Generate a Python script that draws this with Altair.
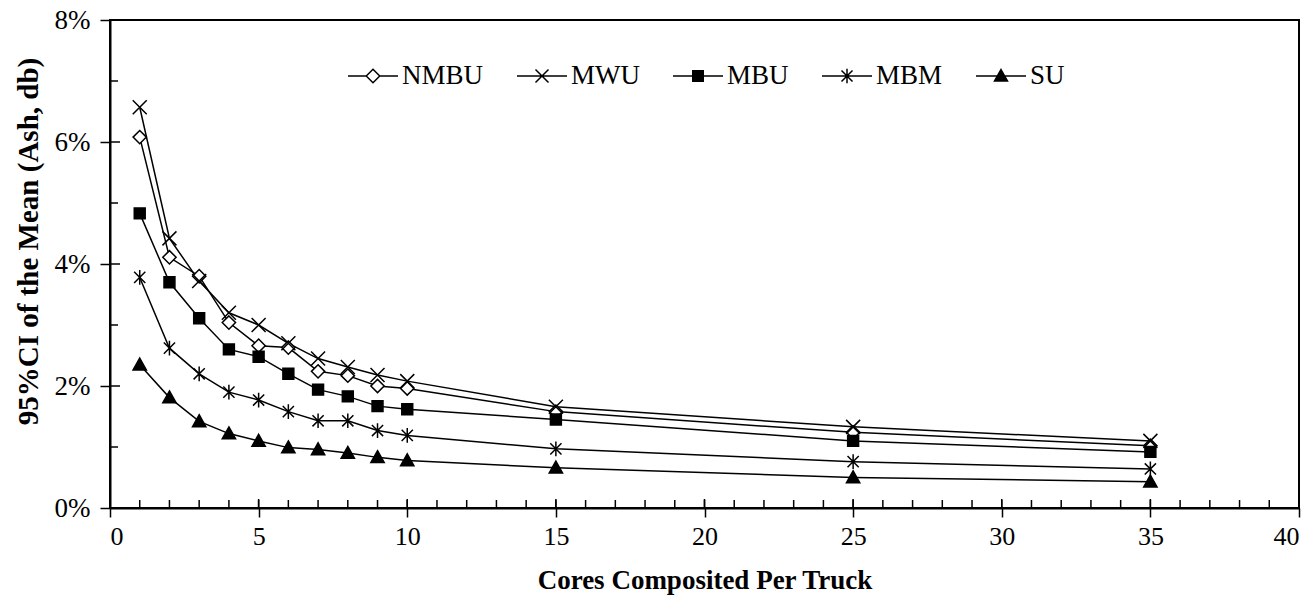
import altair as alt
import pandas as pd

# Cores composited per truck (x) and 95% CI of the mean, in percent (y)
cores = [1, 2, 3, 4, 5, 6, 7, 8, 9, 10, 15, 25, 35]
nmbu = [6.08, 4.11, 3.80, 3.04, 2.66, 2.63, 2.24, 2.17, 2.00, 1.96, 1.58, 1.24, 1.02]
mwu = [6.57, 4.42, 3.72, 3.20, 3.00, 2.70, 2.45, 2.31, 2.18, 2.08, 1.66, 1.33, 1.10]
mbu = [4.83, 3.70, 3.11, 2.60, 2.48, 2.20, 1.94, 1.83, 1.67, 1.62, 1.45, 1.10, 0.92]
mbm = [3.78, 2.62, 2.20, 1.90, 1.77, 1.58, 1.43, 1.43, 1.27, 1.19, 0.97, 0.76, 0.64]
su = [2.35, 1.81, 1.42, 1.22, 1.10, 0.99, 0.96, 0.90, 0.83, 0.78, 0.66, 0.50, 0.43]

series_names = ["NMBU", "MWU", "MBU", "MBM", "SU"]
series_values = [nmbu, mwu, mbu, mbm, su]

x_major = [0, 5, 10, 15, 20, 25, 30, 35, 40]
x_minor = list(range(0, 41))
y_major = [0.0, 0.02, 0.04, 0.06, 0.08]
y_minor = [0.01, 0.03, 0.05, 0.07]

rows = []
for name, vals in zip(series_names, series_values):
    for c, v in zip(cores, vals):
        rows.append({"series": name, "cores": c, "ci": v / 100.0})
df = pd.DataFrame(rows)

W, H = 1189, 488
FONT = "Liberation Serif"

# marker glyphs drawn on the curves
marker_paths = [
    "M0,-0.95L0.95,0L0,0.95L-0.95,0Z",
    "M-1,-1L1,1M-1,1L1,-1",
    "M-0.78,-0.78H0.78V0.78H-0.78Z",
    "M-0.8,-0.8L0.8,0.8M-0.8,0.8L0.8,-0.8M0,-1.05V1.05",
    "M0,-0.95L0.95,0.75L-0.95,0.75Z",
]
marker_fills = ["white", "transparent", "black", "transparent", "black"]
marker_strokes = ["black"] * 5

# legend glyphs: a line segment with the marker in the middle
legend_paths = [
    "M-1,0H-0.27M0.27,0H1M0,-0.27L0.27,0L0,0.27L-0.27,0Z",
    "M-1,0H1M-0.26,-0.26L0.26,0.26M-0.26,0.26L0.26,-0.26",
    "M-1,0H1M-0.21,-0.21H0.21V0.21H-0.21Z",
    "M-1,0H1M-0.22,-0.22L0.22,0.22M-0.22,0.22L0.22,-0.22M0,-0.29V0.29",
    "M-1,0H1M0,-0.26L0.26,0.2L-0.26,0.2Z",
]

x_scale = alt.Scale(domain=[0, 40], nice=False, zero=False)
y_scale = alt.Scale(domain=[0, 0.08], nice=False)

x_axis = alt.Axis(
    values=x_major, format="d", title="Cores Composited Per Truck",
    tickSize=9, tickWidth=1.5, tickColor="black", grid=False,
    labelPadding=6, labelFontSize=26, titleFontSize=27,
    titleY=72, titleBaseline="middle",
)
y_axis = alt.Axis(
    values=y_major, format=".0%", title="95%CI of the Mean (Ash, db)",
    tickSize=10, tickWidth=1.5, tickColor="black", grid=False,
    labelPadding=10, labelFontSize=27, titleFontSize=29,
    titleX=-82, titleY=221, titleAngle=-90,
    titleBaseline="middle", titleAlign="center",
)

base = alt.Chart(df)

lines = base.mark_line(color="black", strokeWidth=1.5).encode(
    x=alt.X("cores:Q", scale=x_scale, axis=x_axis),
    y=alt.Y("ci:Q", scale=y_scale, axis=y_axis),
    detail="series:N",
    order="cores:Q",
)

points = base.mark_point(stroke="black", strokeWidth=1.5, opacity=1, size=196).encode(
    x=alt.X("cores:Q", scale=x_scale),
    y=alt.Y("ci:Q", scale=y_scale),
    shape=alt.Shape("series:N", scale=alt.Scale(domain=series_names, range=marker_paths), legend=None),
    fill=alt.Fill("series:N", scale=alt.Scale(domain=series_names, range=marker_fills), legend=None),
)

legend_cfg = alt.Legend(
    title=None, orient="none", legendX=237, legendY=30, direction="horizontal",
    symbolSize=2500, symbolStrokeWidth=1.5, symbolStrokeColor="black",
    symbolOpacity=1, labelFont=FONT, labelFontSize=27, labelColor="black",
    labelOffset=3, columnPadding=30, padding=0,
)

legend_layer = base.transform_filter(alt.datum.cores == 1).mark_point(
    strokeWidth=1.5, opacity=0, size=2500
).encode(
    x=alt.X("cores:Q", scale=x_scale),
    y=alt.Y("ci:Q", scale=y_scale),
    shape=alt.Shape("series:N", scale=alt.Scale(domain=series_names, range=legend_paths), legend=legend_cfg),
    fill=alt.Fill("series:N", scale=alt.Scale(domain=series_names, range=marker_fills), legend=legend_cfg),
    stroke=alt.Stroke("series:N", scale=alt.Scale(domain=series_names, range=marker_strokes), legend=legend_cfg),
)

# inward tick marks along the bottom and left axes
xt_minor = alt.Chart(pd.DataFrame({"t": x_minor})).mark_rule(color="black", strokeWidth=1.5).encode(
    x=alt.X("t:Q", scale=x_scale), y=alt.value(H - 8), y2=alt.value(H)
)
xt_major = alt.Chart(pd.DataFrame({"t": x_major})).mark_rule(color="black", strokeWidth=1.5).encode(
    x=alt.X("t:Q", scale=x_scale), y=alt.value(H - 9), y2=alt.value(H)
)
yt_minor = alt.Chart(pd.DataFrame({"t": y_minor})).mark_rule(color="black", strokeWidth=1.5).encode(
    y=alt.Y("t:Q", scale=y_scale), x=alt.value(0), x2=alt.value(8)
)
yt_major = alt.Chart(pd.DataFrame({"t": y_major})).mark_rule(color="black", strokeWidth=1.5).encode(
    y=alt.Y("t:Q", scale=y_scale), x=alt.value(0), x2=alt.value(10)
)

chart = (
    alt.layer(xt_minor, xt_major, yt_minor, yt_major, lines, points, legend_layer)
    .resolve_scale(shape="independent", fill="independent", stroke="independent")
    .properties(
        width=W, height=H,
        autosize=alt.AutoSizeParams(type="none"),
        padding={"left": 110, "top": 20, "right": 17, "bottom": 90},
        background="white",
    )
    .configure_view(stroke="black", strokeWidth=2)
    .configure_axis(
        domainColor="black", domainWidth=2,
        labelFont=FONT, labelColor="black",
        titleFont=FONT, titleFontWeight="bold", titleColor="black",
    )
)

chart.save("out.html", embed_options={"renderer": "svg", "actions": False})
